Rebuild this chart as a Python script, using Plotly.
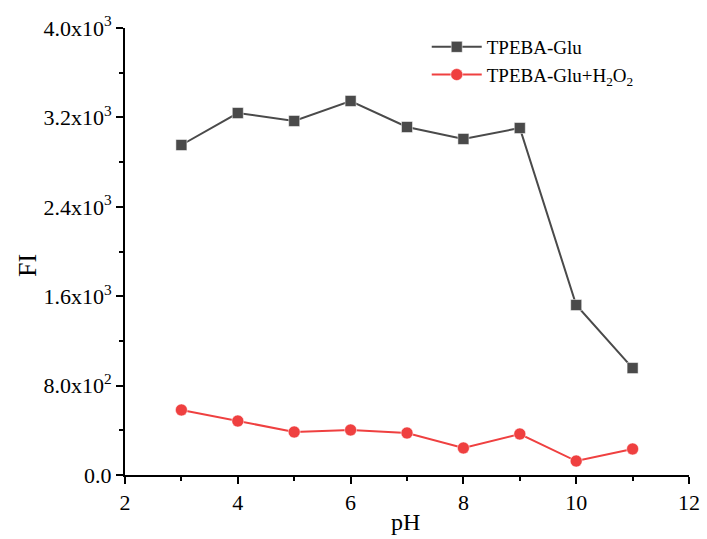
import plotly.graph_objects as go

ph = [3, 4, 5, 6, 7, 8, 9, 10, 11]
fi_glu = [2953, 3239, 3168, 3347, 3114, 3007, 3105, 1521, 957]
fi_glu_h2o2 = [582, 483, 385, 403, 376, 242, 367, 125, 233]

y_tickvals = [0, 800, 1600, 2400, 3200, 4000]
y_ticktext = ["0.0", "8.0x10<sup>2</sup>", "1.6x10<sup>3</sup>", "2.4x10<sup>3</sup>",
              "3.2x10<sup>3</sup>", "4.0x10<sup>3</sup>"]
x_tickvals = [2, 4, 6, 8, 10, 12]

font = "Liberation Serif, Times New Roman, serif"

fig = go.Figure()
fig.add_trace(go.Scatter(
    x=ph, y=fi_glu, mode="lines+markers", name="TPEBA-Glu",
    line=dict(color="#4a4a4a", width=2),
    marker=dict(symbol="square", size=11, color="#4a4a4a", line=dict(color="white", width=0.5)),
))
fig.add_trace(go.Scatter(
    x=ph, y=fi_glu_h2o2, mode="lines+markers", name="TPEBA-Glu+H<sub>2</sub>O<sub>2</sub>",
    line=dict(color="#ef4040", width=2),
    marker=dict(symbol="circle", size=12, color="#ef4040", line=dict(color="white", width=0.5)),
))

fig.update_layout(
    width=707, height=539,
    margin=dict(l=125, r=18, t=28, b=64),
    plot_bgcolor="white", paper_bgcolor="white",
    font=dict(family=font, size=22, color="black"),
    showlegend=True,
    legend=dict(x=0.535, y=1.0, xanchor="left", yanchor="top",
                bgcolor="rgba(0,0,0,0)", font=dict(size=19), itemwidth=50,
                tracegroupgap=0),
    xaxis=dict(range=[2, 12], tickmode="array", tickvals=x_tickvals,
               tickfont=dict(size=22), automargin=False,
               showgrid=False, zeroline=False, showline=True, linecolor="black", linewidth=2,
               ticks="outside", ticklen=7, tickwidth=2, tickcolor="black",
               minor=dict(dtick=1, tick0=2, ticks="outside", ticklen=4, tickwidth=2, tickcolor="black")),
    yaxis=dict(range=[0, 4000], tickmode="array", tickvals=y_tickvals, ticktext=y_ticktext,
               tickfont=dict(size=22), automargin=False,
               showgrid=False, zeroline=False, showline=True, linecolor="black", linewidth=2,
               ticks="outside", ticklen=7, tickwidth=2, tickcolor="black",
               minor=dict(dtick=400, tick0=0, ticks="outside", ticklen=4, tickwidth=2, tickcolor="black")),
    annotations=[
        dict(text="pH", xref="paper", yref="paper", x=0.498, y=-0.105,
             xanchor="center", yanchor="middle", showarrow=False, font=dict(size=24)),
        dict(text="FI", xref="paper", yref="paper", x=-0.172, y=0.47,
             xanchor="center", yanchor="middle", showarrow=False, textangle=-90,
             font=dict(size=26)),
    ],
)

fig.write_html("out.html")
